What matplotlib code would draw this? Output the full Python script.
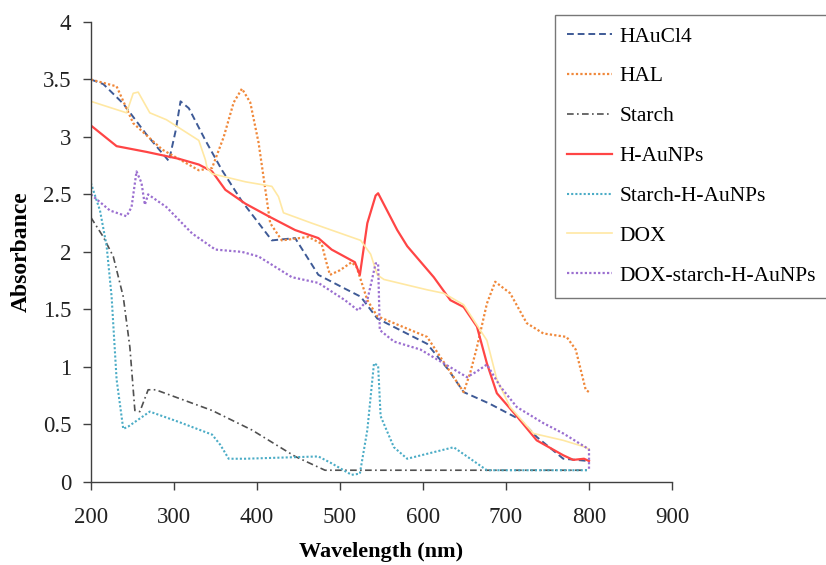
import matplotlib
matplotlib.use("Agg")
import matplotlib.pyplot as plt

plt.rcParams['font.family'] = ['Liberation Serif', 'DejaVu Serif']

# ---- data ----
hau_x = [200, 215, 239, 266, 294, 302, 308, 318, 338, 358, 382, 418, 446, 474, 506, 525, 545, 575, 605, 630, 649, 680, 717, 737, 769, 800]
hau_y = [3.50, 3.46, 3.29, 3.03, 2.79, 3.05, 3.31, 3.25, 2.97, 2.71, 2.44, 2.10, 2.12, 1.80, 1.68, 1.61, 1.42, 1.31, 1.20, 0.98, 0.78, 0.68, 0.54, 0.39, 0.20, 0.18]

hal_x = [200, 231, 251, 286, 330, 346, 360, 372, 382, 392, 402, 416, 430, 462, 478, 484, 488, 500, 514, 520, 533, 545, 575, 605, 637, 649, 657, 665, 677, 687, 705, 725, 745, 773, 784, 796, 800]
hal_y = [3.50, 3.44, 3.12, 2.89, 2.71, 2.73, 3.00, 3.30, 3.42, 3.30, 2.95, 2.25, 2.10, 2.13, 2.07, 1.90, 1.80, 1.84, 1.91, 1.87, 1.58, 1.44, 1.35, 1.26, 0.91, 0.78, 0.95, 1.17, 1.55, 1.74, 1.64, 1.38, 1.29, 1.26, 1.15, 0.80, 0.78]

sta_x = [200, 215, 227, 239, 247, 253, 259, 269, 278, 346, 394, 446, 482, 800]
sta_y = [2.30, 2.13, 1.96, 1.61, 1.17, 0.62, 0.61, 0.80, 0.80, 0.62, 0.45, 0.22, 0.10, 0.10]

hnp_x = [200, 231, 267, 306, 330, 346, 362, 386, 414, 446, 474, 490, 518, 524, 533, 543, 546, 569, 581, 613, 633, 649, 665, 677, 689, 713, 737, 769, 781, 794, 800]
hnp_y = [3.10, 2.92, 2.87, 2.81, 2.76, 2.70, 2.54, 2.42, 2.31, 2.19, 2.12, 2.02, 1.91, 1.80, 2.25, 2.49, 2.51, 2.19, 2.05, 1.78, 1.58, 1.52, 1.35, 1.03, 0.77, 0.57, 0.36, 0.23, 0.19, 0.20, 0.18]

shn_x = [200, 211, 219, 225, 231, 239, 245, 271, 306, 346, 356, 366, 386, 474, 490, 514, 524, 533, 541, 546, 549, 565, 581, 637, 653, 677, 800]
shn_y = [2.60, 2.36, 2.05, 1.61, 0.89, 0.46, 0.48, 0.61, 0.52, 0.41, 0.32, 0.20, 0.20, 0.22, 0.16, 0.06, 0.07, 0.45, 1.03, 1.01, 0.57, 0.30, 0.20, 0.30, 0.22, 0.10, 0.10]

dox_x = [200, 243, 251, 257, 271, 291, 330, 338, 340, 346, 386, 418, 426, 432, 466, 525, 537, 545, 553, 605, 625, 649, 677, 689, 705, 733, 769, 796, 800]
dox_y = [3.31, 3.21, 3.38, 3.39, 3.21, 3.15, 2.97, 2.80, 2.73, 2.68, 2.61, 2.57, 2.48, 2.34, 2.25, 2.10, 1.98, 1.80, 1.76, 1.67, 1.64, 1.54, 1.23, 0.89, 0.65, 0.42, 0.36, 0.30, 0.28]

dsh_x = [200, 223, 243, 249, 255, 261, 265, 269, 291, 322, 350, 382, 402, 442, 474, 506, 522, 533, 543, 546, 548, 565, 597, 625, 653, 665, 677, 693, 713, 745, 769, 796, 800, 800]
dsh_y = [2.50, 2.36, 2.31, 2.39, 2.70, 2.60, 2.41, 2.50, 2.39, 2.16, 2.02, 2.00, 1.96, 1.78, 1.73, 1.58, 1.49, 1.58, 1.90, 1.90, 1.32, 1.22, 1.15, 1.03, 0.91, 0.96, 1.02, 0.83, 0.65, 0.51, 0.42, 0.30, 0.28, 0.10]

labels = ['HAuCl4', 'HAL', 'Starch', 'H-AuNPs', 'Starch-H-AuNPs', 'DOX', 'DOX-starch-H-AuNPs']
x_ticks = [200, 300, 400, 500, 600, 700, 800, 900]
y_ticks = [0, 0.5, 1, 1.5, 2, 2.5, 3, 3.5, 4]
y_tick_labels = ['0', '0.5', '1', '1.5', '2', '2.5', '3', '3.5', '4']

fig = plt.figure(figsize=(8.26, 5.65), dpi=100)
ax = fig.add_axes([0.110, 0.1474, 0.7036, 0.8136])

series = [
    (hau_x, hau_y, dict(color='#3E5A96', lw=1.4, linestyle=(0, (3.5, 2)))),
    (hal_x, hal_y, dict(color='#F0883A', lw=1.6, linestyle=(0, (1, 1)))),
    (sta_x, sta_y, dict(color='#505050', lw=1.2, linestyle=(0, (4, 2, 1, 2)))),
    (hnp_x, hnp_y, dict(color='#FF4545', lw=1.6, linestyle='-')),
    (shn_x, shn_y, dict(color='#4BACC6', lw=1.5, linestyle=(0, (1, 1)))),
    (dox_x, dox_y, dict(color='#FFE8A3', lw=1.2, linestyle='-')),
    (dsh_x, dsh_y, dict(color='#9B6FD0', lw=1.6, linestyle=(0, (1, 1)))),
]
handles = []
for (xs, ys, st), lab in zip(series, labels):
    h, = ax.plot(xs, ys, label=lab, **st)
    handles.append(h)

ax.set_xlim(200, 900)
ax.set_ylim(0, 4)
ax.set_xticks(x_ticks)
ax.set_yticks(y_ticks)
ax.set_yticklabels(y_tick_labels)
ax.spines['top'].set_visible(False)
ax.spines['right'].set_visible(False)
for s in ['left', 'bottom']:
    ax.spines[s].set_color('#404040')
    ax.spines[s].set_linewidth(1.0)
ax.tick_params(axis='both', direction='out', length=6, width=1.0, color='#404040',
               labelsize=16.5, labelcolor='#222222')
ax.tick_params(axis='x', pad=12)
ax.tick_params(axis='y', pad=8)

ax.set_xlabel('Wavelength (nm)', fontsize=16, fontweight='bold', labelpad=10)
ax.set_ylabel('Absorbance', fontsize=17, fontweight='bold', labelpad=8)

leg = fig.legend(handles=handles, labels=labels, loc='upper left',
                 bbox_to_anchor=(0.672, 0.974), frameon=True, fancybox=False,
                 fontsize=15.5, handlelength=2.1, handletextpad=0.35,
                 labelspacing=0.92, borderpad=0.55, borderaxespad=0)
leg.get_frame().set_edgecolor('#555555')
leg.get_frame().set_linewidth(1.0)

fig.savefig('out.png', dpi=100)
